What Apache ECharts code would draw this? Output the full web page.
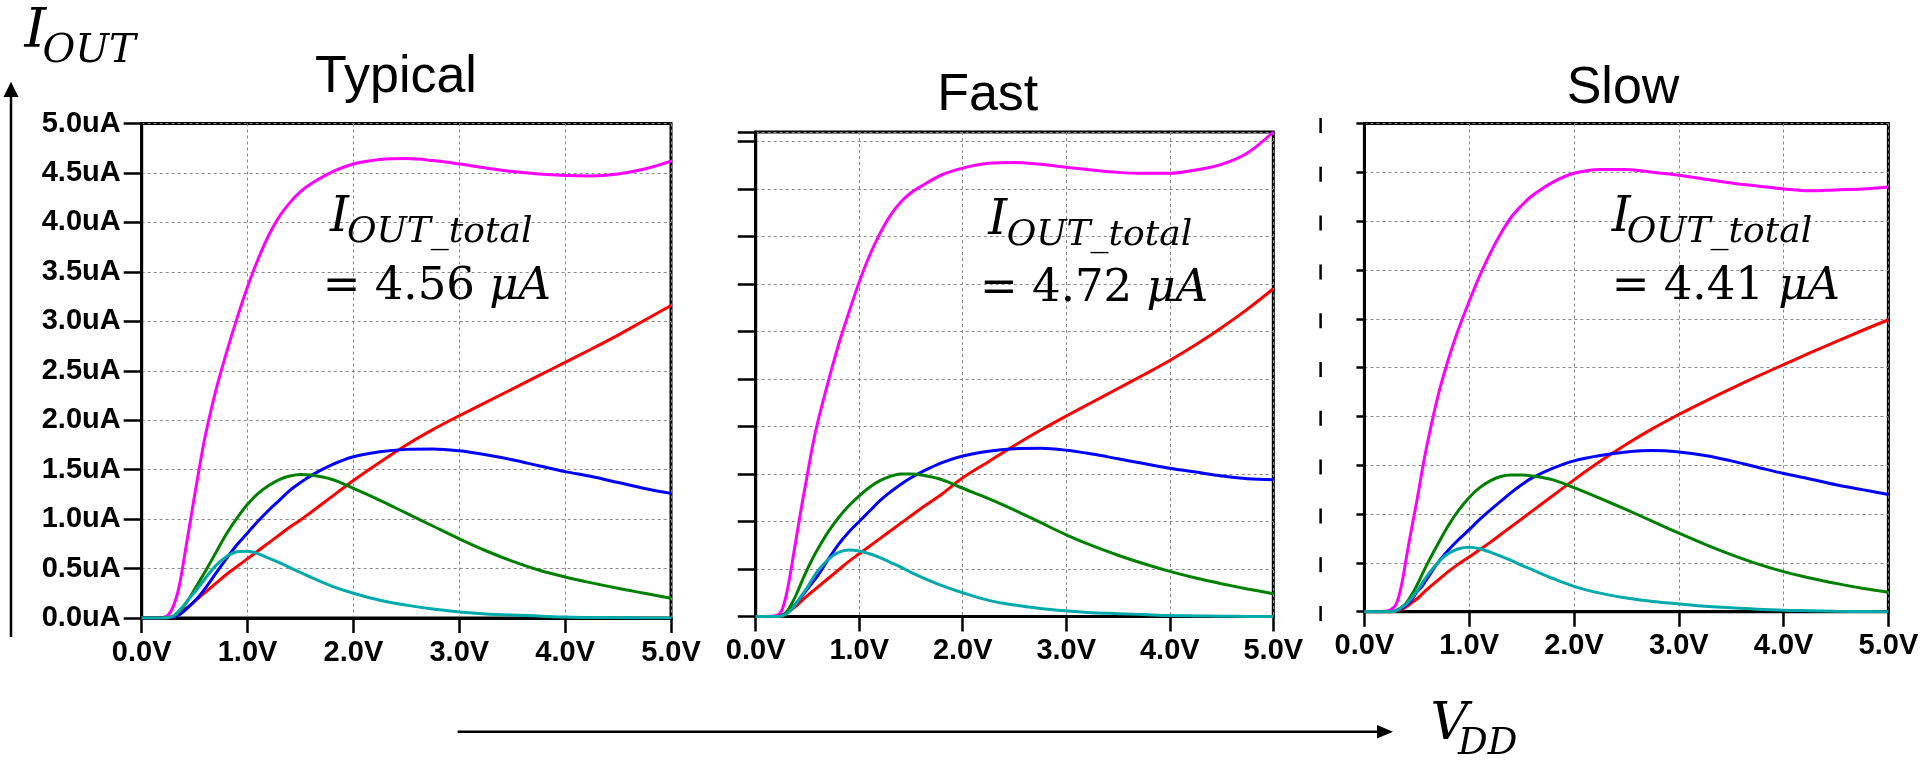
<!DOCTYPE html>
<html><head><meta charset="utf-8">
<script src="https://cdn.jsdelivr.net/npm/echarts@6/dist/echarts.min.js"></script>
<style>html,body{margin:0;padding:0;background:#fff}#c{width:1920px;height:760px}</style>
</head><body><div id="c"></div>
<script>
// ---------- data ----------
const vdd = [0, 0.1, 0.2, 0.25, 0.3, 0.35, 0.4, 0.45, 0.5, 0.55, 0.6, 0.7, 0.8, 0.9, 1.0, 1.1, 1.2, 1.3, 1.4, 1.5, 1.6, 1.8, 2.0, 2.25, 2.5, 2.75, 3.0, 3.25, 3.5, 3.75, 4.0, 4.25, 4.5, 4.75, 5.0];

const xTickLabels = ['0.0V', '1.0V', '2.0V', '3.0V', '4.0V', '5.0V'];
const yTickLabels = ['0.0uA', '0.5uA', '1.0uA', '1.5uA', '2.0uA', '2.5uA', '3.0uA', '3.5uA', '4.0uA', '4.5uA', '5.0uA'];

const panelTitles = ['Typical', 'Fast', 'Slow'];
const totalValues = ['4.56', '4.72', '4.41'];

// Typical
const typMagenta = [0, 0, 0.005, 0.03, 0.12, 0.30, 0.60, 0.92, 1.24, 1.55, 1.84, 2.30, 2.68, 3.03, 3.35, 3.63, 3.87, 4.06, 4.20, 4.31, 4.39, 4.51, 4.59, 4.635, 4.645, 4.625, 4.59, 4.55, 4.515, 4.49, 4.475, 4.47, 4.49, 4.54, 4.62];
const typRed     = [0, 0, 0, 0.003, 0.015, 0.04, 0.08, 0.12, 0.17, 0.215, 0.26, 0.35, 0.44, 0.52, 0.60, 0.68, 0.76, 0.84, 0.92, 0.99, 1.07, 1.23, 1.39, 1.575, 1.75, 1.905, 2.045, 2.18, 2.315, 2.45, 2.585, 2.72, 2.86, 3.01, 3.16];
const typBlue    = [0, 0, 0, 0.003, 0.01, 0.03, 0.07, 0.12, 0.17, 0.23, 0.30, 0.45, 0.60, 0.74, 0.86, 0.98, 1.09, 1.19, 1.29, 1.37, 1.44, 1.55, 1.63, 1.68, 1.705, 1.71, 1.69, 1.65, 1.60, 1.54, 1.48, 1.43, 1.37, 1.31, 1.26];
const typGreen   = [0, 0, 0, 0.005, 0.02, 0.06, 0.12, 0.20, 0.29, 0.38, 0.47, 0.66, 0.85, 1.01, 1.15, 1.26, 1.34, 1.40, 1.435, 1.45, 1.445, 1.40, 1.31, 1.19, 1.06, 0.93, 0.80, 0.68, 0.575, 0.485, 0.415, 0.355, 0.30, 0.25, 0.20];
const typCyan    = [0, 0, 0, 0.005, 0.02, 0.07, 0.13, 0.20, 0.26, 0.33, 0.40, 0.53, 0.62, 0.67, 0.675, 0.65, 0.605, 0.56, 0.51, 0.46, 0.41, 0.32, 0.25, 0.18, 0.13, 0.09, 0.06, 0.04, 0.03, 0.02, 0.01, 0.005, 0.003, 0.001, 0];

// Fast
const fastMagenta = [0, 0, 0.01, 0.06, 0.25, 0.55, 0.88, 1.20, 1.50, 1.80, 2.05, 2.47, 2.86, 3.20, 3.52, 3.80, 4.03, 4.22, 4.36, 4.46, 4.53, 4.65, 4.72, 4.77, 4.78, 4.76, 4.73, 4.70, 4.675, 4.665, 4.665, 4.70, 4.76, 4.88, 5.10];
const fastRed     = [0, 0, 0, 0.01, 0.035, 0.075, 0.12, 0.17, 0.22, 0.265, 0.31, 0.40, 0.49, 0.58, 0.66, 0.74, 0.82, 0.90, 0.98, 1.06, 1.14, 1.29, 1.46, 1.63, 1.80, 1.96, 2.11, 2.255, 2.40, 2.545, 2.695, 2.86, 3.04, 3.235, 3.45];
const fastBlue    = [0, 0, 0, 0.01, 0.04, 0.09, 0.15, 0.22, 0.29, 0.36, 0.43, 0.60, 0.76, 0.89, 1.00, 1.11, 1.22, 1.31, 1.39, 1.46, 1.52, 1.62, 1.69, 1.74, 1.765, 1.77, 1.75, 1.71, 1.66, 1.61, 1.56, 1.52, 1.48, 1.45, 1.44];
const fastGreen   = [0, 0, 0, 0.01, 0.05, 0.14, 0.25, 0.38, 0.50, 0.61, 0.71, 0.89, 1.04, 1.165, 1.27, 1.36, 1.43, 1.475, 1.50, 1.50, 1.49, 1.44, 1.35, 1.24, 1.12, 0.99, 0.86, 0.745, 0.645, 0.555, 0.475, 0.405, 0.345, 0.29, 0.24];
const fastCyan    = [0, 0, 0, 0.005, 0.03, 0.08, 0.15, 0.23, 0.31, 0.40, 0.48, 0.60, 0.675, 0.70, 0.69, 0.66, 0.62, 0.57, 0.52, 0.465, 0.415, 0.325, 0.25, 0.17, 0.12, 0.085, 0.06, 0.04, 0.03, 0.02, 0.01, 0.006, 0.003, 0.001, 0];

// Slow
const slowMagenta = [0, 0, 0.005, 0.02, 0.07, 0.25, 0.55, 0.85, 1.13, 1.44, 1.72, 2.20, 2.58, 2.90, 3.18, 3.44, 3.67, 3.87, 4.04, 4.16, 4.26, 4.40, 4.49, 4.53, 4.53, 4.50, 4.47, 4.43, 4.39, 4.36, 4.33, 4.31, 4.32, 4.33, 4.35];
const slowRed     = [0, 0, 0, 0, 0.005, 0.02, 0.05, 0.09, 0.13, 0.18, 0.23, 0.32, 0.41, 0.49, 0.56, 0.635, 0.71, 0.79, 0.87, 0.95, 1.03, 1.19, 1.35, 1.54, 1.715, 1.875, 2.02, 2.155, 2.285, 2.41, 2.53, 2.65, 2.765, 2.88, 2.99];
const slowBlue    = [0, 0, 0, 0, 0.01, 0.03, 0.07, 0.12, 0.20, 0.26, 0.34, 0.50, 0.63, 0.74, 0.84, 0.945, 1.04, 1.13, 1.22, 1.30, 1.37, 1.47, 1.545, 1.60, 1.635, 1.65, 1.635, 1.60, 1.545, 1.48, 1.415, 1.36, 1.30, 1.25, 1.20];
const slowGreen   = [0, 0, 0, 0, 0.01, 0.04, 0.09, 0.17, 0.27, 0.38, 0.49, 0.69, 0.88, 1.04, 1.17, 1.27, 1.34, 1.385, 1.40, 1.40, 1.39, 1.35, 1.27, 1.16, 1.045, 0.925, 0.805, 0.69, 0.585, 0.49, 0.41, 0.345, 0.29, 0.24, 0.20];
const slowCyan    = [0, 0, 0, 0, 0.01, 0.04, 0.08, 0.14, 0.21, 0.29, 0.37, 0.50, 0.595, 0.645, 0.66, 0.645, 0.61, 0.57, 0.525, 0.475, 0.43, 0.34, 0.26, 0.19, 0.14, 0.105, 0.08, 0.055, 0.04, 0.025, 0.015, 0.01, 0.005, 0.002, 0];

// ---------- layout / style ----------
const COLORS = { magenta: '#FF00FF', red: '#FF0000', blue: '#0000FF', green: '#008000', cyan: '#00AAAA' };
const panelSeries = [
  [typMagenta, typRed, typBlue, typGreen, typCyan],
  [fastMagenta, fastRed, fastBlue, fastGreen, fastCyan],
  [slowMagenta, slowRed, slowBlue, slowGreen, slowCyan]
];
const seriesColors = [COLORS.magenta, COLORS.red, COLORS.blue, COLORS.green, COLORS.cyan];

const grids = [
  { left: 141.7, top: 123.5, width: 529.3, height: 494.5 },
  { left: 755.7, top: 132.0, width: 517.6, height: 484.5 },
  { left: 1364.4, top: 123.5, width: 524.0, height: 488.2 }
];
const yMaxes = [5, 5.1, 5];
const yTickLen = [18, 18, 8];
const showYLabels = [true, false, false];

const tickFont = { color: '#000', fontSize: 29, fontWeight: 'bold', fontFamily: '"Liberation Sans", Arial, sans-serif' };
const splitStyle = { color: '#8a8a8a', width: 1, type: [3, 3] };

const option = {
  animation: false,
  backgroundColor: '#fff',
  grid: grids.map(g => Object.assign({ show: true, borderColor: '#000', borderWidth: 3, backgroundColor: 'transparent', containLabel: false, outerBoundsMode: 'none' }, g)),
  xAxis: grids.map((g, i) => ({
    type: 'value', gridIndex: i, min: 0, max: 5, interval: 1,
    axisLine: { show: true, onZero: false, lineStyle: { color: '#000', width: 3 } },
    axisTick: { show: true, length: 15, lineStyle: { color: '#000', width: 2.5 } },
    axisLabel: Object.assign({ show: true, margin: 20, formatter: v => xTickLabels[Math.round(v)] }, tickFont),
    splitLine: { show: true, lineStyle: splitStyle }
  })),
  yAxis: grids.map((g, i) => ({
    type: 'value', gridIndex: i, min: 0, max: yMaxes[i], interval: 0.5,
    axisLine: { show: true, onZero: false, lineStyle: { color: '#000', width: 3 } },
    axisTick: { show: true, length: yTickLen[i], lineStyle: { color: '#000', width: 2.5 } },
    axisLabel: Object.assign({ show: showYLabels[i], margin: 21, showMaxLabel: true, showMinLabel: true,
      formatter: v => { const k = Math.round(v * 2); return Math.abs(v * 2 - k) < 1e-6 ? yTickLabels[k] : ''; } }, tickFont),
    splitLine: { show: true, lineStyle: splitStyle }
  })),
  series: []
};

panelSeries.forEach((list, p) => {
  list.forEach((vals, s) => {
    option.series.push({
      type: 'line', xAxisIndex: p, yAxisIndex: p,
      data: vdd.map((v, i) => [v, vals[i]]),
      showSymbol: false, symbol: 'none', smooth: 0.35,
      lineStyle: { color: seriesColors[s], width: 3 },
      itemStyle: { color: seriesColors[s] },
      silent: true, clip: true, z: 3
    });
  });
});

// ---------- text & decorations ----------
const SERIF = '"DejaVu Serif", "Liberation Serif", serif';
function txt(x, baseline, str, size, opts) {
  opts = opts || {};
  return {
    type: 'text', x: x, y: baseline - 0.346 * size, z: 10, silent: true,
    style: Object.assign({
      text: str, fontSize: size, fontFamily: opts.family || SERIF, fontStyle: opts.italic ? 'italic' : 'normal',
      fontWeight: opts.weight || 'normal', fill: '#000',
      align: opts.align || 'left', verticalAlign: 'middle', textAlign: opts.align || 'left', textVerticalAlign: 'middle'
    }, opts.rich ? { rich: opts.rich } : {})
  };
}

const graphics = [];
// Titles
const titlePos = [[396, 77.5], [987.7, 95.5], [1623, 88.5]];
panelTitles.forEach((t, i) => {
  graphics.push({
    type: 'text', x: titlePos[i][0], y: titlePos[i][1], z: 10, silent: true,
    style: { text: t, fontSize: 52, fontFamily: '"Liberation Sans", Arial, sans-serif', fill: '#000',
      align: 'center', verticalAlign: 'middle', textAlign: 'center', textVerticalAlign: 'middle' }
  });
});
// Annotations
const annot = [
  { ix: 330, ib: 235, sx: 347, sb: 245, ex: 322.7, eb: 302.7 },
  { ix: 988.3, ib: 238.3, sx: 1006.7, sb: 248.3, ex: 980, eb: 305 },
  { ix: 1611.7, ib: 235, sx: 1626.7, sb: 245, ex: 1611.7, eb: 302.7 }
];
annot.forEach((a, i) => {
  graphics.push(txt(a.ix, a.ib, 'I', 48, { italic: true }));
  graphics.push(txt(a.sx, a.sb, 'OUT_total', 36, { italic: true }));
  graphics.push(txt(a.ex, a.eb, '{r|= ' + totalValues[i] + ' }{it|μA}', 45, {
    rich: {
      r: { fontSize: 45, fontFamily: SERIF, fontStyle: 'normal', fill: '#000' },
      it: { fontSize: 45, fontFamily: SERIF, fontStyle: 'italic', fill: '#000' }
    }
  }));
});
// Axis names
graphics.push(txt(24.6, 51.7, 'I', 55, { italic: true }));
graphics.push(txt(42.4, 65, 'OUT', 40, { italic: true }));
graphics.push(txt(1430.5, 743.3, 'V', 52, { italic: true }));
graphics.push(txt(1458, 756.7, 'DD', 37, { italic: true }));
// Arrows
graphics.push({ type: 'line', silent: true, z: 10, shape: { x1: 11, y1: 637, x2: 11, y2: 94 }, style: { stroke: '#000', lineWidth: 2.5 } });
graphics.push({ type: 'polygon', silent: true, z: 10, shape: { points: [[11, 81.7], [3.5, 97], [18.5, 97]] }, style: { fill: '#000' } });
graphics.push({ type: 'line', silent: true, z: 10, shape: { x1: 457.6, y1: 731.7, x2: 1380, y2: 731.7 }, style: { stroke: '#000', lineWidth: 2.5 } });
graphics.push({ type: 'polygon', silent: true, z: 10, shape: { points: [[1393, 731.7], [1377, 725], [1377, 738.4]] }, style: { fill: '#000' } });
// Dashed separator
graphics.push({ type: 'line', silent: true, z: 10, shape: { x1: 1320.6, y1: 118, x2: 1320.6, y2: 623 }, style: { stroke: '#000', lineWidth: 2.5, lineDash: [15, 33.8] } });

option.graphic = { elements: graphics };

const chart = echarts.init(document.getElementById('c'), null, { renderer: 'canvas', width: 1920, height: 760 });
chart.setOption(option);
</script></body></html>
